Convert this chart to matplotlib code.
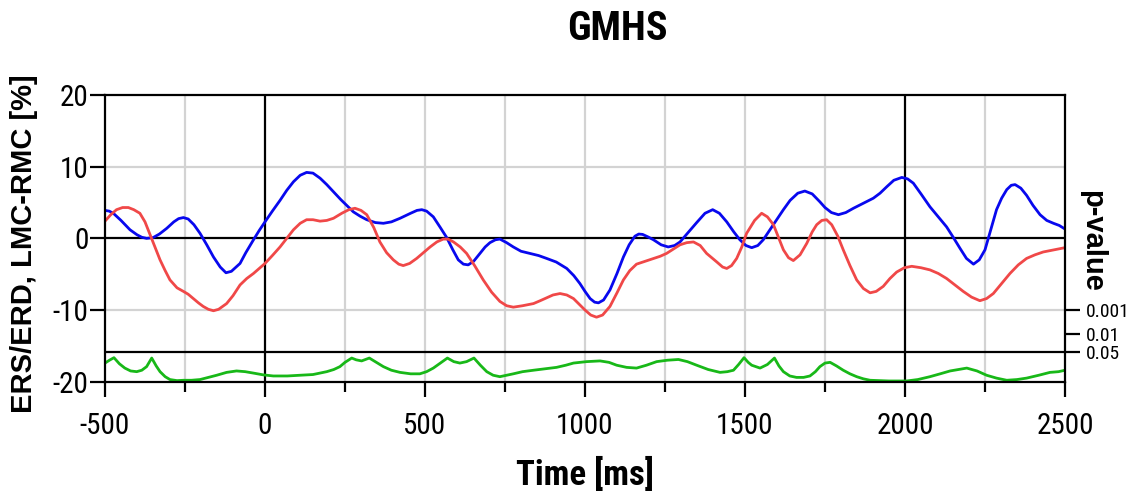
import matplotlib
import matplotlib.pyplot as plt
import numpy as np

matplotlib.use("Agg")

# --- values (time in ms, ERS/ERD in %) ---
blue_t = [-500, -487, -474, -450, -422, -400, -385, -370, -350, -330, -307, -285,
          -270, -255, -240, -222, -203, -182, -161, -140, -122, -105, -90, -78,
          -60, -36, -18, 0, 23, 47, 68, 89, 110, 130, 150, 172, 193, 214, 237,
          260, 276, 297, 318, 345, 370, 395, 422, 455, 475, 490, 505, 526, 548,
          568, 587, 604, 620, 635, 652, 672, 688, 703, 720, 734, 755, 776, 800,
          828, 855, 880, 910, 943, 965, 984, 1000, 1016, 1030, 1042, 1058, 1078,
          1100, 1120, 1138, 1156, 1168, 1180, 1197, 1214, 1238, 1260, 1280, 1297,
          1322, 1349, 1375, 1399, 1420, 1443, 1465, 1484, 1503, 1521, 1540, 1557,
          1578, 1599, 1620, 1641, 1665, 1687, 1710, 1734, 1750, 1770, 1792, 1815,
          1839, 1870, 1901, 1922, 1943, 1965, 1990, 2008, 2026, 2050, 2078, 2104,
          2130, 2150, 2172, 2192, 2214, 2232, 2250, 2268, 2286, 2302, 2318, 2332,
          2344, 2362, 2380, 2400, 2422, 2443, 2464, 2482, 2500]
blue_v = [3.9, 3.8, 3.5, 2.5, 1.2, 0.5, 0.15, 0.0, 0.1, 0.6, 1.4, 2.3,
          2.75, 2.9, 2.7, 1.9, 0.7, -0.9, -2.6, -4.0, -4.8, -4.6, -4.0, -3.5,
          -2.0, -0.2, 1.1, 2.3, 3.8, 5.3, 6.7, 7.9, 8.8, 9.2, 9.1, 8.4, 7.5, 6.5, 5.4,
          4.4, 3.7, 3.1, 2.6, 2.2, 2.1, 2.3, 2.8, 3.5, 3.9, 4.0, 3.8, 3.0, 1.5,
          0.1, -1.6, -3.0, -3.6, -3.7, -3.2, -2.1, -1.2, -0.6, -0.2, -0.1, -0.6, -1.2, -1.8,
          -2.1, -2.4, -2.8, -3.3, -4.2, -5.2, -6.3, -7.4, -8.4, -8.9, -9.0, -8.6, -7.2,
          -4.9, -2.6, -0.9, 0.3, 0.6, 0.55, 0.2, -0.2, -0.9, -1.2, -1.0, -0.5,
          0.8, 2.2, 3.5, 4.0, 3.5, 2.3, 0.9, -0.2, -1.0, -1.3, -1.0, -0.2,
          1.2, 2.6, 4.0, 5.3, 6.3, 6.6, 6.2, 5.1, 4.3, 3.6, 3.3, 3.6,
          4.2, 4.9, 5.6, 6.3, 7.2, 8.1, 8.5, 8.3, 7.7, 6.2, 4.4, 3.0,
          1.6, 0.2, -1.4, -2.8, -3.6, -3.0, -1.6, 1.2, 4.0, 5.6, 6.8, 7.4,
          7.5, 7.0, 6.0, 4.6, 3.3, 2.5, 2.1, 1.8, 1.3]

red_t = [-500, -482, -464, -445, -427, -410, -391, -375, -359, -343, -328, -312,
         -297, -275, -255, -240, -224, -208, -193, -177, -161, -145, -120, -100,
         -78, -57, -36, -18, 0, 23, 47, 68, 89, 110, 130, 150, 172, 193, 214,
         240, 262, 281, 300, 318, 340, 359, 380, 401, 418, 432, 452, 474, 495,
         516, 537, 557, 572, 589, 610, 630, 655, 682, 708, 734, 755, 776, 805,
         839, 860, 880, 900, 922, 943, 964, 982, 1000, 1018, 1036, 1055, 1078,
         1100, 1120, 1140, 1161, 1188, 1214, 1235, 1255, 1276, 1297, 1318, 1339,
         1360, 1380, 1412, 1430, 1443, 1458, 1474, 1490, 1505, 1530, 1552, 1570,
         1589, 1605, 1620, 1636, 1651, 1672, 1693, 1710, 1724, 1740, 1755, 1771,
         1790, 1807, 1828, 1849, 1870, 1891, 1910, 1932, 1953, 1974, 1998, 2021,
         2050, 2078, 2104, 2130, 2156, 2182, 2208, 2234, 2255, 2276, 2302, 2328,
         2354, 2380, 2406, 2432, 2466, 2500]
red_v = [2.4, 3.3, 4.0, 4.3, 4.3, 4.0, 3.5, 2.3, 0.5, -1.3, -3.0, -4.5,
         -5.8, -6.9, -7.4, -7.8, -8.4, -9.0, -9.5, -9.9, -10.1, -9.9, -9.1, -8.0,
         -6.5, -5.6, -4.9, -4.2, -3.5, -2.4, -1.2, 0.0, 1.2, 2.1, 2.6, 2.6, 2.4, 2.5, 2.8,
         3.5, 4.0, 4.2, 3.9, 3.3, 1.5, -0.5, -2.0, -3.0, -3.6, -3.8, -3.5, -2.8, -2.0,
         -1.2, -0.5, -0.1, -0.1, -0.5, -1.2, -2.1, -3.8, -5.8, -7.5, -8.8, -9.4, -9.6, -9.4,
         -9.1, -8.7, -8.3, -7.9, -7.7, -7.9, -8.4, -9.2, -10.0, -10.7, -11.0, -10.7, -9.5,
         -7.6, -5.8, -4.5, -3.6, -3.2, -2.8, -2.5, -2.1, -1.5, -0.9, -0.6, -0.5,
         -1.0, -2.1, -3.3, -4.0, -4.2, -3.8, -2.8, -1.2, 0.7, 2.5, 3.5, 3.0,
         1.9, 0.1, -1.6, -2.7, -3.1, -2.3, -0.7, 0.9, 1.9, 2.5, 2.6, 1.9,
         0.3, -1.6, -3.8, -5.8, -7.0, -7.6, -7.4, -6.7, -5.6, -4.7, -4.1, -3.9,
         -4.1, -4.4, -4.9, -5.6, -6.5, -7.4, -8.2, -8.7, -8.4, -7.7, -6.3, -4.9,
         -3.7, -2.8, -2.3, -1.9, -1.6, -1.3]

# p-value trace, read in the left-axis units of the lower band
green_t = [-500, -486, -472, -455, -438, -420, -401, -385, -370, -362, -354, -340,
           -328, -312, -297, -275, -255, -230, -203, -177, -151, -120, -89, -62,
           -36, -5, 26, 70, 109, 150, 193, 215, 234, 250, 271, 285, 302, 326, 348,
           370, 395, 422, 455, 484, 505, 526, 548, 570, 590, 609, 630, 653, 673,
           693, 713, 734, 755, 776, 805, 839, 875, 911, 940, 964, 1005, 1047, 1075,
           1099, 1130, 1161, 1192, 1224, 1258, 1292, 1320, 1349, 1385, 1422, 1445,
           1464, 1480, 1497, 1510, 1521, 1547, 1570, 1592, 1606, 1620, 1640, 1661,
           1683, 1703, 1720, 1734, 1750, 1766, 1786, 1807, 1828, 1849, 1870, 1891,
           1950, 2005, 2040, 2078, 2110, 2141, 2167, 2193, 2225, 2255, 2286, 2318,
           2350, 2380, 2418, 2453, 2480, 2500]
green_v = [-17.4, -17.0, -16.65, -17.5, -18.1, -18.5, -18.6, -18.4, -17.9, -17.3, -16.7, -17.8,
           -18.6, -19.3, -19.7, -19.85, -19.8, -19.8, -19.7, -19.4, -19.1, -18.7, -18.5, -18.6,
           -18.8, -19.05, -19.2, -19.2, -19.1, -19.0, -18.6, -18.3, -17.9, -17.3, -16.7, -16.95, -17.1, -16.7, -17.3,
           -17.9, -18.4, -18.7, -18.9, -18.9, -18.6, -18.1, -17.4, -16.7, -17.2, -17.4, -17.2, -16.7, -17.7,
           -18.6, -19.1, -19.3, -19.1, -18.9, -18.6, -18.4, -18.2, -18.0, -17.7, -17.4, -17.2, -17.1, -17.3,
           -17.7, -18.0, -18.1, -17.7, -17.2, -17.0, -16.9, -17.2, -17.7, -18.3, -18.7, -18.6,
           -18.4, -17.6, -16.65, -17.3, -17.7, -18.1, -17.6, -16.7, -17.8, -18.6, -19.2, -19.4,
           -19.4, -19.2, -18.6, -17.9, -17.4, -17.3, -17.8, -18.4, -18.9, -19.3, -19.6, -19.8,
           -19.9, -19.9, -19.7, -19.3, -18.9, -18.5, -18.3, -18.1, -18.5, -19.1, -19.5, -19.8,
           -19.7, -19.5, -19.1, -18.7, -18.6, -18.4]

p_ticks = [0.001, 0.01, 0.05]
p_labels = ["0.001", "0.01", "0.05"]


def p_to_y(p):
    # log scale of the p-value band, fitted to where the right ticks sit
    return -20.24 - 3.414 * np.log10(p)


narrow = ["Roboto Condensed", "DejaVu Sans"]
plt.rcParams["font.family"] = ["Liberation Sans", "DejaVu Sans"]
plt.rcParams["axes.unicode_minus"] = False

fig = plt.figure(figsize=(11.3, 4.92), dpi=100)
ax = fig.add_axes([105 / 1130, 1 - 381.7 / 492, 960 / 1130, 286.7 / 492])

grey = "#d3d3d3"
for x in [-250, 250, 500, 750, 1000, 1250, 1500, 1750, 2250]:
    ax.axvline(x, color=grey, lw=1.6, zorder=1)
for y in [10, -10]:
    ax.axhline(y, color=grey, lw=1.6, zorder=1)
for x in [0, 2000]:
    ax.axvline(x, color="black", lw=1.6, zorder=2)
ax.axhline(0, color="black", lw=1.6, zorder=2)
ax.axhline(p_to_y(0.05), color="black", lw=1.6, zorder=2)

ax.plot(blue_t, blue_v, color="#0808ee", lw=2.0, zorder=3, solid_joinstyle="round")
ax.plot(red_t, red_v, color="#f04848", lw=2.0, zorder=3, solid_joinstyle="round")
ax.plot(green_t, green_v, color="#18b818", lw=2.0, zorder=3, solid_joinstyle="round")

ax.set_xlim(-500, 2500)
ax.set_ylim(-20, 20)
ax.set_xticks(range(-500, 2501, 500))
ax.set_xticks(range(-250, 2500, 500), minor=True)
ax.set_yticks([-20, -10, 0, 10, 20])
for s in ax.spines.values():
    s.set_linewidth(1.6)
    s.set_zorder(4)
ax.tick_params(axis="both", which="major", direction="out", length=11, width=1.6,
               color="black")
ax.tick_params(axis="x", which="minor", direction="out", length=7, width=1.6)
ax.tick_params(axis="x", which="major", pad=11)
ax.tick_params(axis="y", which="major", pad=1)
for lab in ax.get_xticklabels() + ax.get_yticklabels():
    lab.set_fontfamily(narrow)
    lab.set_fontsize(21)

ax2 = ax.twinx()
ax2.set_ylim(-20, 20)
ax2.set_yticks(p_to_y(np.array(p_ticks)))
ax2.set_yticklabels(p_labels, fontfamily=narrow, fontsize=14)
ax2.tick_params(axis="y", direction="out", length=11, width=1.6, pad=4)
for s in ax2.spines.values():
    s.set_visible(False)

fig.text(617 / 1130, 1 - 29 / 492, "GMHS", ha="center", va="center",
         fontsize=29, fontweight="bold", family=narrow)
fig.text(585 / 1130, 1 - 474 / 492, "Time [ms]", ha="center", va="center",
         fontsize=25, fontweight="bold", family=narrow)
fig.text(24 / 1130, 1 - 244 / 492, "ERS/ERD, LMC-RMC [%]", ha="center", va="center",
         rotation=90, fontsize=21, fontweight="bold")
fig.text(1092 / 1130, 1 - 241 / 492, "p-value", ha="center", va="center",
         rotation=-90, fontsize=21, fontweight="bold")

fig.savefig("out.png", dpi=100)
